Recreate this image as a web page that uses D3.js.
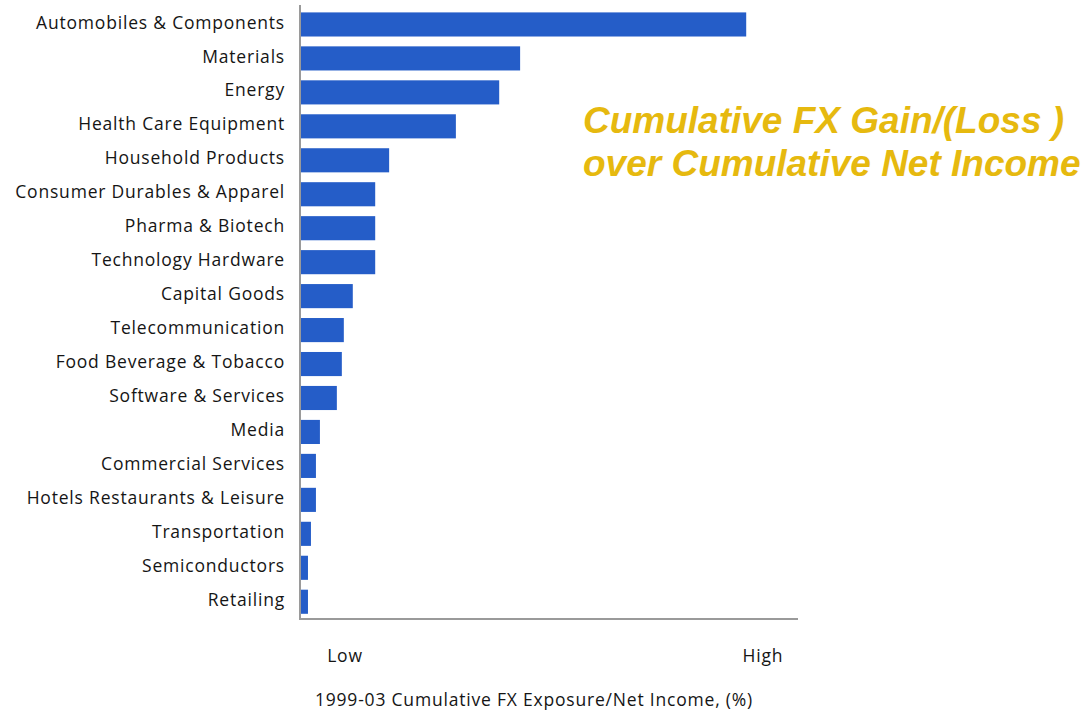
<!DOCTYPE html>
<html><head><meta charset="utf-8">
<script src="https://cdn.jsdelivr.net/npm/d3@7"></script>
<style>html,body{margin:0;padding:0;background:#fff;}</style>
</head><body>
<svg id="chart" width="1089" height="712"></svg>
<script>
const categories = ["Automobiles & Components","Materials","Energy","Health Care Equipment","Household Products","Consumer Durables & Apparel","Pharma & Biotech","Technology Hardware","Capital Goods","Telecommunication","Food Beverage & Tobacco","Software & Services","Media","Commercial Services","Hotels Restaurants & Leisure","Transportation","Semiconductors","Retailing"];
const values = [89.6,44.2,40.0,31.3,17.9,15.1,15.1,15.1,10.6,8.8,8.4,7.4,4.0,3.2,3.2,2.2,1.6,1.6];
const axisEnds = ["Low","High"];
const axisTitle = "1999-03 Cumulative FX Exposure/Net Income, (%)";
const titleLines = ["Cumulative FX Gain/(Loss )","over Cumulative Net Income"];

const svg = d3.select("#chart");
const x = d3.scaleLinear().domain([0,100]).range([300,798]);
const y = d3.scaleBand().domain(categories).range([5,621.2]).paddingInner(0.29).paddingOuter(0.218);

const labelFont = "'Open Sans', sans-serif";
const textColor = "#151515";
const ls = 0.8;

svg.append("g").selectAll("rect").data(categories).join("rect")
  .attr("x", x(0)+1)
  .attr("y", d=>y(d))
  .attr("width", (d,i)=>x(values[i])-x(0)-1)
  .attr("height", y.bandwidth())
  .attr("fill","#255dc8");

svg.append("g").selectAll("text").data(categories).join("text")
  .attr("x",285).attr("y", d=>y(d)+y.bandwidth()/2 - 2)
  .attr("dy","0.35em").attr("text-anchor","end")
  .attr("font-family",labelFont).attr("font-size",17.5).attr("letter-spacing",ls)
  .attr("fill",textColor)
  .text(d=>d);

// axes lines
svg.append("line").attr("x1",300).attr("x2",300).attr("y1",5).attr("y2",620)
  .attr("stroke","#9a9a9a").attr("stroke-width",2);
svg.append("line").attr("x1",299).attr("x2",798).attr("y1",619).attr("y2",619)
  .attr("stroke","#9a9a9a").attr("stroke-width",2);

svg.append("text").attr("x",345).attr("y",656).attr("dy","0.35em").attr("text-anchor","middle")
  .attr("font-family",labelFont).attr("font-size",17.5).attr("letter-spacing",ls).attr("fill",textColor).text(axisEnds[0]);
svg.append("text").attr("x",763).attr("y",656).attr("dy","0.35em").attr("text-anchor","middle")
  .attr("font-family",labelFont).attr("font-size",17.5).attr("letter-spacing",ls).attr("fill",textColor).text(axisEnds[1]);
svg.append("text").attr("x",534).attr("y",700).attr("dy","0.35em").attr("text-anchor","middle")
  .attr("font-family",labelFont).attr("font-size",17.5).attr("letter-spacing",ls).attr("fill",textColor).text(axisTitle);

svg.append("g").selectAll("text").data(titleLines).join("text")
  .attr("x",583).attr("y",(d,i)=>133+i*43)
  .attr("font-family","'Liberation Sans', Arial, sans-serif")
  .attr("font-weight","bold").attr("font-style","italic")
  .attr("font-size",37).attr("fill","#e6b90f")
  .text(d=>d);
</script>
</body></html>
